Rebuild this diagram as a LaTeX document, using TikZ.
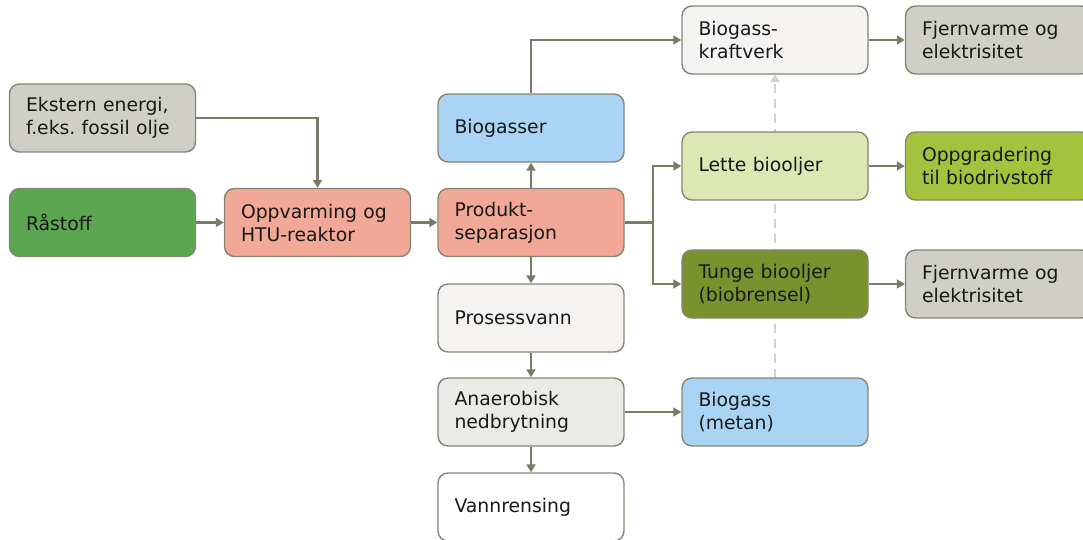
\documentclass[tikz,border=0pt]{standalone}
\usepackage{fontspec}
\setmainfont{DejaVu Sans}
\usetikzlibrary{arrows.meta}
\frenchspacing
\definecolor{edge}{HTML}{858574}
\definecolor{flow}{HTML}{7A7A68}
\definecolor{dashgrey}{HTML}{D2D2CB}
\definecolor{cGrey}{HTML}{D0CFC7}
\definecolor{cGreen}{HTML}{5CA651}
\definecolor{cSalmon}{HTML}{F2A897}
\definecolor{cBlue}{HTML}{A9D4F3}
\definecolor{cPale}{HTML}{F4F3F1}
\definecolor{cLight}{HTML}{EAEAE6}
\definecolor{cLime}{HTML}{DBE8B3}
\definecolor{cOlive}{HTML}{7A922E}
\definecolor{cLeaf}{HTML}{A3C23D}
\tikzset{
  x=1pt, y=-1pt,
  box/.style={draw=edge, line width=1.4pt, rounded corners=10pt,
    minimum width=186pt, minimum height=68pt, text width=153pt,
    inner xsep=16.5pt, align=left, text=black!90,
    font=\fontsize{18.8}{23}\selectfont},
  flowline/.style={draw=flow, line width=2.2pt,
    -{Triangle[length=8pt,width=9pt]}},
  dashline/.style={draw=dashgrey, line width=2pt, dash pattern=on 9pt off 6pt,
    -{Triangle[length=8pt,width=9pt]}}
}
\begin{document}
\begin{tikzpicture}
\useasboundingbox (0,0) rectangle (1083,539);
\clip (0,0) rectangle (1083,539);
% dashed link drawn first so the boxes cover it
\coordinate (dtop) at (775,74);
\coordinate (dbot) at (775,378);
\draw[dashline] (dbot) -- (dtop);

\node[box, fill=cGrey]   (ekst)  at (102.5,118)   {Ekstern energi,\\f.eks. fossil olje};
\node[box, fill=cGreen]  (rast)  at (102.5,222.5) {Råstoff};
\node[box, fill=cSalmon] (oppv)  at (317.5,222.5) {Oppvarming og\\HTU-reaktor};
\node[box, fill=cBlue]   (biog)  at (531,128)     {Biogasser};
\node[box, fill=cSalmon] (prod)  at (531,222.5)   {Produkt-\\separasjon};
\node[box, fill=cPale]   (pros)  at (531,318)     {Prosessvann};
\node[box, fill=cLight]  (anae)  at (531,412)     {Anaerobisk\\nedbrytning};
\node[box, fill=white]   (vann)  at (531,507)     {Vannrensing};
\node[box, fill=cPale]   (kraft) at (775,40)      {Biogass-\\kraftverk};
\node[box, fill=cLime]   (lette) at (775,166)     {Lette biooljer};
\node[box, fill=cOlive]  (tunge) at (775,284)     {Tunge biooljer\\(biobrensel)};
\node[box, fill=cBlue]   (metan) at (775,412)     {Biogass\\(metan)};
\node[box, fill=cGrey]   (fj1)   at (998.5,40)    {Fjernvarme og\\elektrisitet};
\node[box, fill=cLeaf]   (oppg)  at (998.5,166)   {Oppgradering\\til biodrivstoff};
\node[box, fill=cGrey]   (fj2)   at (998.5,284)   {Fjernvarme og\\elektrisitet};

% connectors
\draw[flowline] (ekst.east) -| (oppv.north);
\draw[flowline] (rast) -- (oppv);
\draw[flowline] (oppv) -- (prod);
\draw[flowline] (prod) -- (biog);
\draw[flowline] (biog.north) |- (kraft.west);
\coordinate (split) at (653,222.5);
\draw[draw=flow, line width=2.2pt] (prod.east) -- (split);
\draw[flowline] (split) |- (lette.west);
\draw[flowline] (split) |- (tunge.west);
\draw[flowline] (prod) -- (pros);
\draw[flowline] (pros) -- (anae);
\draw[flowline] (anae) -- (metan);
\draw[flowline] (anae) -- (vann);
\draw[flowline] (kraft) -- (fj1);
\draw[flowline] (lette) -- (oppg);
\draw[flowline] (tunge) -- (fj2);
\end{tikzpicture}
\end{document}
